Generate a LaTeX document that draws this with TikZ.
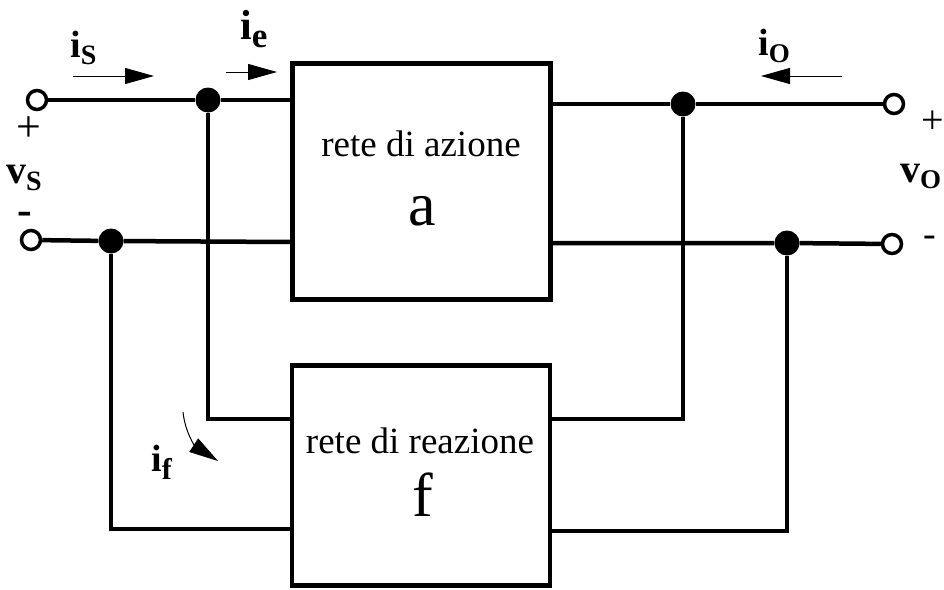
\documentclass[tikz,border=0pt]{standalone}
\usepackage{fontspec}
\setmainfont{Liberation Serif}
\usetikzlibrary{arrows.meta}
\newcommand\mylbl[5]{{\fontsize{#3}{#3}\selectfont\bfseries #1}\raisebox{-#5pt}{\fontsize{#4}{#4}\selectfont\bfseries #2}}
\begin{document}
\begin{tikzpicture}[x=1pt,y=-1pt,
 wire/.style={line width=4.5pt},
 blockbox/.style={draw,line width=4.5pt,minimum width=258pt,inner sep=0pt},
 term/.style={circle,draw,line width=3.5pt,fill=white,minimum size=19pt,inner sep=0pt},
 junct/.style={circle,fill,minimum size=25pt,inner sep=0pt},
 curarrow/.style={line width=1pt,-{Triangle[length=29pt,width=16pt]}},
 lbl/.style={inner sep=0pt,anchor=base west},
 boxtxt/.style={inner sep=0pt,anchor=base,font=\fontsize{37}{40}\selectfont}]
\useasboundingbox (0,0) rectangle (944,589);
% blocks
\node[blockbox,minimum height=236pt] (A) at (421.5,181.5) {};
\node[blockbox,minimum height=220pt] (F) at (421,475.5) {};
\node[boxtxt] (Atxt) at (421,156) {rete di azione};
\node[boxtxt,font=\fontsize{62}{62}\selectfont] (Asym) at (422,225) {a};
\node[boxtxt] (Ftxt) at (420,453) {rete di reazione};
\node[boxtxt,font=\fontsize{62}{62}\selectfont] (Fsym) at (423,516) {f};
% ports
\coordinate (ain1) at (292,100);
\coordinate (ain2) at (292,242);
\coordinate (aout1) at (552,104);
\coordinate (aout2) at (552,243);
\coordinate (fin1) at (292,419);
\coordinate (fin2) at (292,529);
\coordinate (fout1) at (551,419);
\coordinate (fout2) at (551,531);
% terminals and junctions
\node[term] (tl) at (37,100) {};
\node[term] (bl) at (31,240) {};
\node[term] (tr) at (894,104) {};
\node[term] (br) at (892,244) {};
\node[junct] (d1) at (208,100) {};
\node[junct] (d2) at (111,241) {};
\node[junct] (d3) at (683,104) {};
\node[junct] (d4) at (787,243) {};
% wires
\draw[wire] (tl) -- (d1) -- (ain1);
\draw[wire] (bl) -- (d2) -- (ain2);
\draw[wire] (d1) |- (fin1);
\draw[wire] (d2) |- (fin2);
\draw[wire] (aout1) -- (d3) -- (tr);
\draw[wire] (aout2) -- (d4) -- (br);
\draw[wire] (d3) |- (fout1);
\draw[wire] (d4) |- (fout2);
% current arrows
\coordinate (isA) at (73,76);
\coordinate (isB) at (154,76);
\coordinate (ieA) at (226,72);
\coordinate (ieB) at (277,72);
\coordinate (ioA) at (842,76);
\coordinate (ioB) at (761,76);
\coordinate (ifA) at (183,412);
\coordinate (ifB) at (218,461);
\draw[curarrow] (isA) -- (isB);
\draw[curarrow] (ieA) -- (ieB);
\draw[curarrow] (ioA) -- (ioB);
\draw[curarrow] (ifA) .. controls (185,432) and (195,446) .. (ifB);
% labels
\node[lbl] (is) at (70,57) {\mylbl{i}{S}{38}{28}{7}};
\node[lbl] (ie) at (240,39) {\mylbl{i}{e}{42}{35}{8}};
\node[lbl] (io) at (758,55) {\mylbl{i}{O}{38}{27}{7}};
\node[lbl] (if) at (151,471) {\mylbl{i}{f}{38}{30}{8}};
\node[lbl] (vs) at (6,183) {\mylbl{v}{S}{40}{28}{7}};
\node[lbl] (vo) at (900,182) {\mylbl{v}{O}{40}{27}{6}};
\node[inner sep=0pt,font=\fontsize{44}{44}\selectfont] (ps) at (29,129) {+};
\node[inner sep=0pt,font=\fontsize{40}{40}\selectfont] (po) at (933,122) {+};
\node[inner sep=0pt,font=\fontsize{44}{44}\selectfont\bfseries] (ms) at (25,218) {-};
\node[inner sep=0pt,font=\fontsize{38}{38}\selectfont] (mo) at (930,241) {-};
\end{tikzpicture}
\end{document}
